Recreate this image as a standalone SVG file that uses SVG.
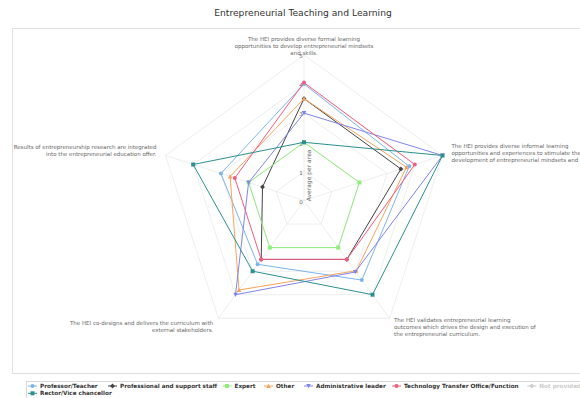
<svg xmlns="http://www.w3.org/2000/svg" xmlns:xlink="http://www.w3.org/1999/xlink" width="580" height="398" viewBox="0 0 580 398">
<style>
text{font-family:"DejaVu Sans","Liberation Sans",sans-serif}
.title{font-size:9.2px;fill:#333333}
.cat{font-size:5.5px;fill:#666666}
.yl{font-size:5.5px;fill:#666666;text-anchor:end}
.ytitle{font-size:6px;fill:#666666;text-anchor:middle}
.grid{fill:none;stroke:#e6e6e6;stroke-width:0.7}
.ser{fill:none;stroke-width:1;stroke-linejoin:round}
.leg{font-size:5.7px;font-weight:bold;fill:#333333}
.legoff{font-size:5.7px;font-weight:bold;fill:#cccccc}
.frame{fill:none;stroke:#e0e0e0;stroke-width:1}
.legbox{fill:none;stroke:#c8c8c8;stroke-width:0.7}
</style>
<defs>
<circle id="m-circle" r="2"/>
<rect id="m-square" x="-2" y="-2" width="4" height="4"/>
<path id="m-diamond" d="M0,-2.4 L2.4,0 L0,2.4 L-2.4,0Z"/>
<path id="m-tri" d="M0,-2.3 L2.3,2 L-2.3,2Z"/>
<path id="m-tridown" d="M-2.3,-2 L2.3,-2 L0,2.3Z"/>
</defs>
<rect width="580" height="398" fill="#ffffff"/>
<rect class="frame" x="12.5" y="28.5" width="600" height="345"/>
<text class="title" x="303" y="16" text-anchor="middle">Entrepreneurial Teaching and Learning</text>

<g id="grid">
<path class="grid" d="M304,54.9 L442.5,155.5 L389.6,318.3 L218.4,318.3 L165.5,155.5Z"/>
<path class="grid" d="M304,84.0 L414.8,164.5 L372.5,294.7 L235.5,294.7 L193.2,164.5Z"/>
<path class="grid" d="M304,113.1 L387.1,173.5 L355.4,271.2 L252.6,271.2 L220.9,173.5Z"/>
<path class="grid" d="M304,142.3 L359.4,182.5 L338.2,247.6 L269.8,247.6 L248.6,182.5Z"/>
<path class="grid" d="M304,171.4 L331.7,191.5 L321.1,224.1 L286.9,224.1 L276.3,191.5Z"/>
<path class="grid" d="M304,200.5 L304,54.9 M304,200.5 L442.5,155.5 M304,200.5 L389.6,318.3 M304,200.5 L218.4,318.3 M304,200.5 L165.5,155.5"/>
</g>

<g id="axis-labels">
<text class="yl" x="302.8" y="203.8">0</text>
<text class="yl" x="302.8" y="174.7">1</text>
<text class="yl" x="302.8" y="145.6">2</text>
<text class="yl" x="302.8" y="116.4">3</text>
<text class="yl" x="302.8" y="87.3">4</text>
<text class="yl" x="302.8" y="58.2">5</text>
<text class="ytitle" transform="translate(311,175.4) rotate(-90)">Average per area</text>
</g>

<g id="categories">
<text class="cat" text-anchor="middle"><tspan x="304" y="40.5">The HEI provides diverse formal learning</tspan><tspan x="304" y="47.5">opportunities to develop entrepreneurial mindsets</tspan><tspan x="304" y="54.6">and skills.</tspan></text>
<text class="cat" text-anchor="start"><tspan x="451.5" y="148.1">The HEI provides diverse informal learning</tspan><tspan x="451.5" y="155.1">opportunities and experiences to stimulate the</tspan><tspan x="451.5" y="162.1">development of entrepreneurial mindsets and</tspan></text>
<text class="cat" text-anchor="start"><tspan x="394" y="321.8">The HEI validates entrepreneurial learning</tspan><tspan x="394" y="328.8">outcomes which drives the design and execution of</tspan><tspan x="394" y="335.8">the entrepreneurial curriculum.</tspan></text>
<text class="cat" text-anchor="end"><tspan x="213.3" y="325.1">The HEI co-designs and delivers the curriculum with</tspan><tspan x="213.3" y="332.1">external stakeholders.</tspan></text>
<text class="cat" text-anchor="end"><tspan x="156.5" y="149.1">Results of entrepreneurship research are integrated</tspan><tspan x="156.5" y="156.1">into the entrepreneurial education offer.</tspan></text>
</g>

<g id="connectors">
<g id="s-professor" fill="#7cb5ec">
<path class="ser" stroke="#7cb5ec" d="M304,84.0 L409.2,166.3 L361.8,280.1 L257.6,264.3 L220.9,173.5Z"/>
<use xlink:href="#m-circle" x="304" y="84.0"/><use xlink:href="#m-circle" x="409.2" y="166.3"/><use xlink:href="#m-circle" x="361.8" y="280.1"/><use xlink:href="#m-circle" x="257.6" y="264.3"/><use xlink:href="#m-circle" x="220.9" y="173.5"/>
</g>
<g id="s-professional" fill="#434348">
<path class="ser" stroke="#434348" d="M304,98.6 L400.9,169.0 L346.8,259.4 L261.2,259.4 L262.5,187.0Z"/>
<use xlink:href="#m-diamond" x="304" y="98.6"/><use xlink:href="#m-diamond" x="400.9" y="169.0"/><use xlink:href="#m-diamond" x="346.8" y="259.4"/><use xlink:href="#m-diamond" x="261.2" y="259.4"/><use xlink:href="#m-diamond" x="262.5" y="187.0"/>
</g>
<g id="s-expert" fill="#90ed7d">
<path class="ser" stroke="#90ed7d" d="M304,142.3 L359.4,182.5 L338.2,247.6 L269.8,247.6 L248.6,182.5Z"/>
<use xlink:href="#m-square" x="304" y="142.3"/><use xlink:href="#m-square" x="359.4" y="182.5"/><use xlink:href="#m-square" x="338.2" y="247.6"/><use xlink:href="#m-square" x="269.8" y="247.6"/><use xlink:href="#m-square" x="248.6" y="182.5"/>
</g>
<g id="s-other" fill="#f7a35c">
<path class="ser" stroke="#f7a35c" d="M304,98.6 L406.5,167.2 L356.3,270.7 L239.0,290.0 L230.1,176.5Z"/>
<use xlink:href="#m-tri" x="304" y="98.6"/><use xlink:href="#m-tri" x="406.5" y="167.2"/><use xlink:href="#m-tri" x="356.3" y="270.7"/><use xlink:href="#m-tri" x="239.0" y="290.0"/><use xlink:href="#m-tri" x="230.1" y="176.5"/>
</g>
<g id="s-admin" fill="#8085e9">
<path class="ser" stroke="#8085e9" d="M304,113.1 L442.5,155.5 L355.2,272.0 L235.5,294.7 L248.6,182.5Z"/>
<use xlink:href="#m-tridown" x="304" y="113.1"/><use xlink:href="#m-tridown" x="442.5" y="155.5"/><use xlink:href="#m-tridown" x="355.2" y="272.0"/><use xlink:href="#m-tridown" x="235.5" y="294.7"/><use xlink:href="#m-tridown" x="248.6" y="182.5"/>
</g>
<g id="s-tto" fill="#f15c80">
<path class="ser" stroke="#f15c80" d="M304,82.6 L414.8,164.5 L346.8,259.4 L261.2,259.4 L234.8,178.0Z"/>
<use xlink:href="#m-circle" x="304" y="82.6"/><use xlink:href="#m-circle" x="414.8" y="164.5"/><use xlink:href="#m-circle" x="346.8" y="259.4"/><use xlink:href="#m-circle" x="261.2" y="259.4"/><use xlink:href="#m-circle" x="234.8" y="178.0"/>
</g>
<g id="s-rector" fill="#2b908f">
<path class="ser" stroke="#2b908f" d="M304,142.3 L442.5,155.5 L372.5,294.7 L252.6,271.2 L193.2,164.5Z"/>
<use xlink:href="#m-square" x="304" y="142.3"/><use xlink:href="#m-square" x="442.5" y="155.5"/><use xlink:href="#m-square" x="372.5" y="294.7"/><use xlink:href="#m-square" x="252.6" y="271.2"/><use xlink:href="#m-square" x="193.2" y="164.5"/>
</g>
</g>

<g id="legend">
<rect class="legbox" x="26.5" y="381.5" width="600" height="30"/>
<g id="leg-professor" fill="#7cb5ec"><path d="M28,386 H37" stroke="#7cb5ec" stroke-width="1"/><use xlink:href="#m-circle" x="32.5" y="386"/><text class="leg" x="40" y="388">Professor/Teacher</text></g>
<g id="leg-professional" fill="#434348"><path d="M108,386 H117" stroke="#434348" stroke-width="1"/><use xlink:href="#m-diamond" x="112.5" y="386"/><text class="leg" x="120" y="388">Professional and support staff</text></g>
<g id="leg-expert" fill="#90ed7d"><path d="M222.5,386 H231.5" stroke="#90ed7d" stroke-width="1"/><use xlink:href="#m-square" x="227" y="386"/><text class="leg" x="234.5" y="388">Expert</text></g>
<g id="leg-other" fill="#f7a35c"><path d="M264,386 H273" stroke="#f7a35c" stroke-width="1"/><use xlink:href="#m-tri" x="268.5" y="386"/><text class="leg" x="276" y="388">Other</text></g>
<g id="leg-admin" fill="#8085e9"><path d="M304,386 H313" stroke="#8085e9" stroke-width="1"/><use xlink:href="#m-tridown" x="308.5" y="386"/><text class="leg" x="316" y="388">Administrative leader</text></g>
<g id="leg-tto" fill="#f15c80"><path d="M392,386 H401" stroke="#f15c80" stroke-width="1"/><use xlink:href="#m-circle" x="396.5" y="386"/><text class="leg" x="404" y="388">Technology Transfer Office/Function</text></g>
<g id="leg-notprovided" fill="#cccccc"><path d="M527.3,386 H536.3" stroke="#cccccc" stroke-width="1"/><use xlink:href="#m-diamond" x="531.8" y="386"/><text class="legoff" x="539.3" y="388">Not provided</text></g>
<g id="leg-rector" fill="#2b908f"><path d="M28,393.3 H37" stroke="#2b908f" stroke-width="1"/><use xlink:href="#m-square" x="32.5" y="393.3"/><text class="leg" x="40" y="395.3">Rector/Vice chancellor</text></g>
</g>
</svg>
